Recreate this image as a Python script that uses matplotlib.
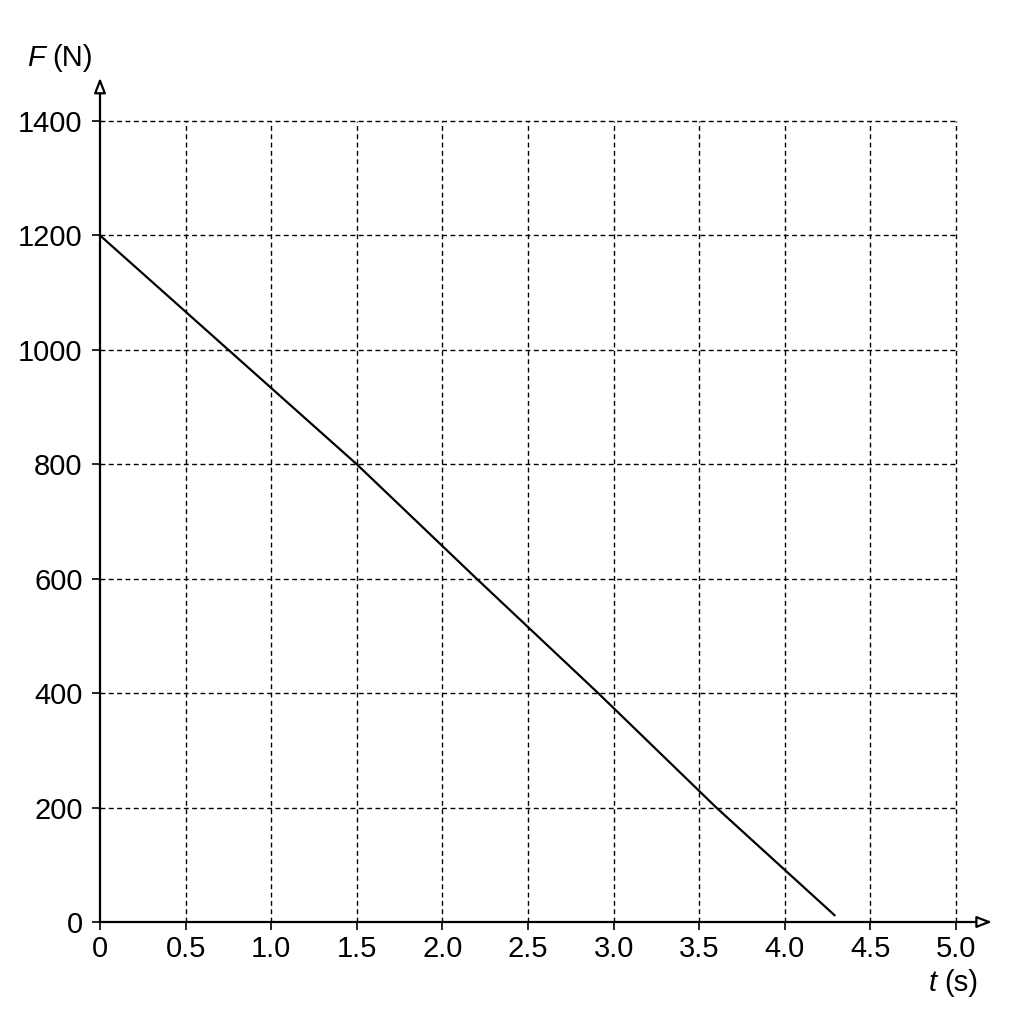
import matplotlib
matplotlib.use("Agg")
import matplotlib.pyplot as plt
import numpy as np

t_vals = [0.0, 1.5, 2.2, 2.91, 3.6, 4.29]
F_vals = [1200, 800, 600, 400, 200, 12]
x_ticks = [0, 0.5, 1.0, 1.5, 2.0, 2.5, 3.0, 3.5, 4.0, 4.5, 5.0]
x_labels = ["0", "0.5", "1.0", "1.5", "2.0", "2.5", "3.0", "3.5", "4.0", "4.5", "5.0"]
y_ticks = [0, 200, 400, 600, 800, 1000, 1200, 1400]
y_labels = ["0", "200", "400", "600", "800", "1000", "1200", "1400"]

plt.rcParams['font.family'] = ['Liberation Sans Narrow', 'Liberation Sans', 'DejaVu Sans']

fig = plt.figure(figsize=(10.24, 10.24), dpi=100)
ax = fig.add_axes([100/1024, 1-922/1024, 856/1024, 801/1024])
ax.set_xlim(0, 5.0)
ax.set_ylim(0, 1400)

for s in ax.spines.values():
    s.set_visible(False)

# grid
for xv in x_ticks[1:]:
    ax.plot([xv, xv], [0, 1400], color='black', lw=1.0, ls=(0, (3.5, 2.5)), zorder=1, clip_on=False)
for yv in y_ticks[1:]:
    ax.plot([0, 5.0], [yv, yv], color='black', lw=1.0, ls=(0, (3.5, 2.5)), zorder=1, clip_on=False)

# axes with arrows
ax.annotate('', xy=(1.042, 0), xytext=(0, 0), xycoords='axes fraction',
            arrowprops=dict(arrowstyle='-|>,head_length=0.9,head_width=0.35', fc='white', ec='black', lw=1.6,
                            shrinkA=0, shrinkB=0), annotation_clip=False)
ax.annotate('', xy=(0, 1.054), xytext=(0, 0), xycoords='axes fraction',
            arrowprops=dict(arrowstyle='-|>,head_length=0.9,head_width=0.35', fc='white', ec='black', lw=1.6,
                            shrinkA=0, shrinkB=0), annotation_clip=False)

ax.plot(t_vals, F_vals, color='black', lw=1.6, zorder=3, solid_joinstyle='round')

ax.set_xticks(x_ticks)
ax.set_xticklabels(x_labels)
ax.set_yticks(y_ticks)
ax.set_yticklabels(y_labels)
ax.tick_params(axis='both', direction='out', length=5.5, width=1.2, labelsize=21, colors='black')
ax.tick_params(axis='x', pad=4)
ax.tick_params(axis='y', pad=7)

fig.text(27/1024, 1-58/1024, 'F', fontsize=21, ha='left', va='center', style='italic')
fig.text(52/1024, 1-58/1024, '(N)', fontsize=21, ha='left', va='center')
fig.text(929/1024, 1-983/1024, 't', fontsize=21, ha='left', va='center', style='italic')
fig.text(944/1024, 1-983/1024, '(s)', fontsize=21, ha='left', va='center')

fig.savefig('out.png', dpi=100, facecolor='white')
